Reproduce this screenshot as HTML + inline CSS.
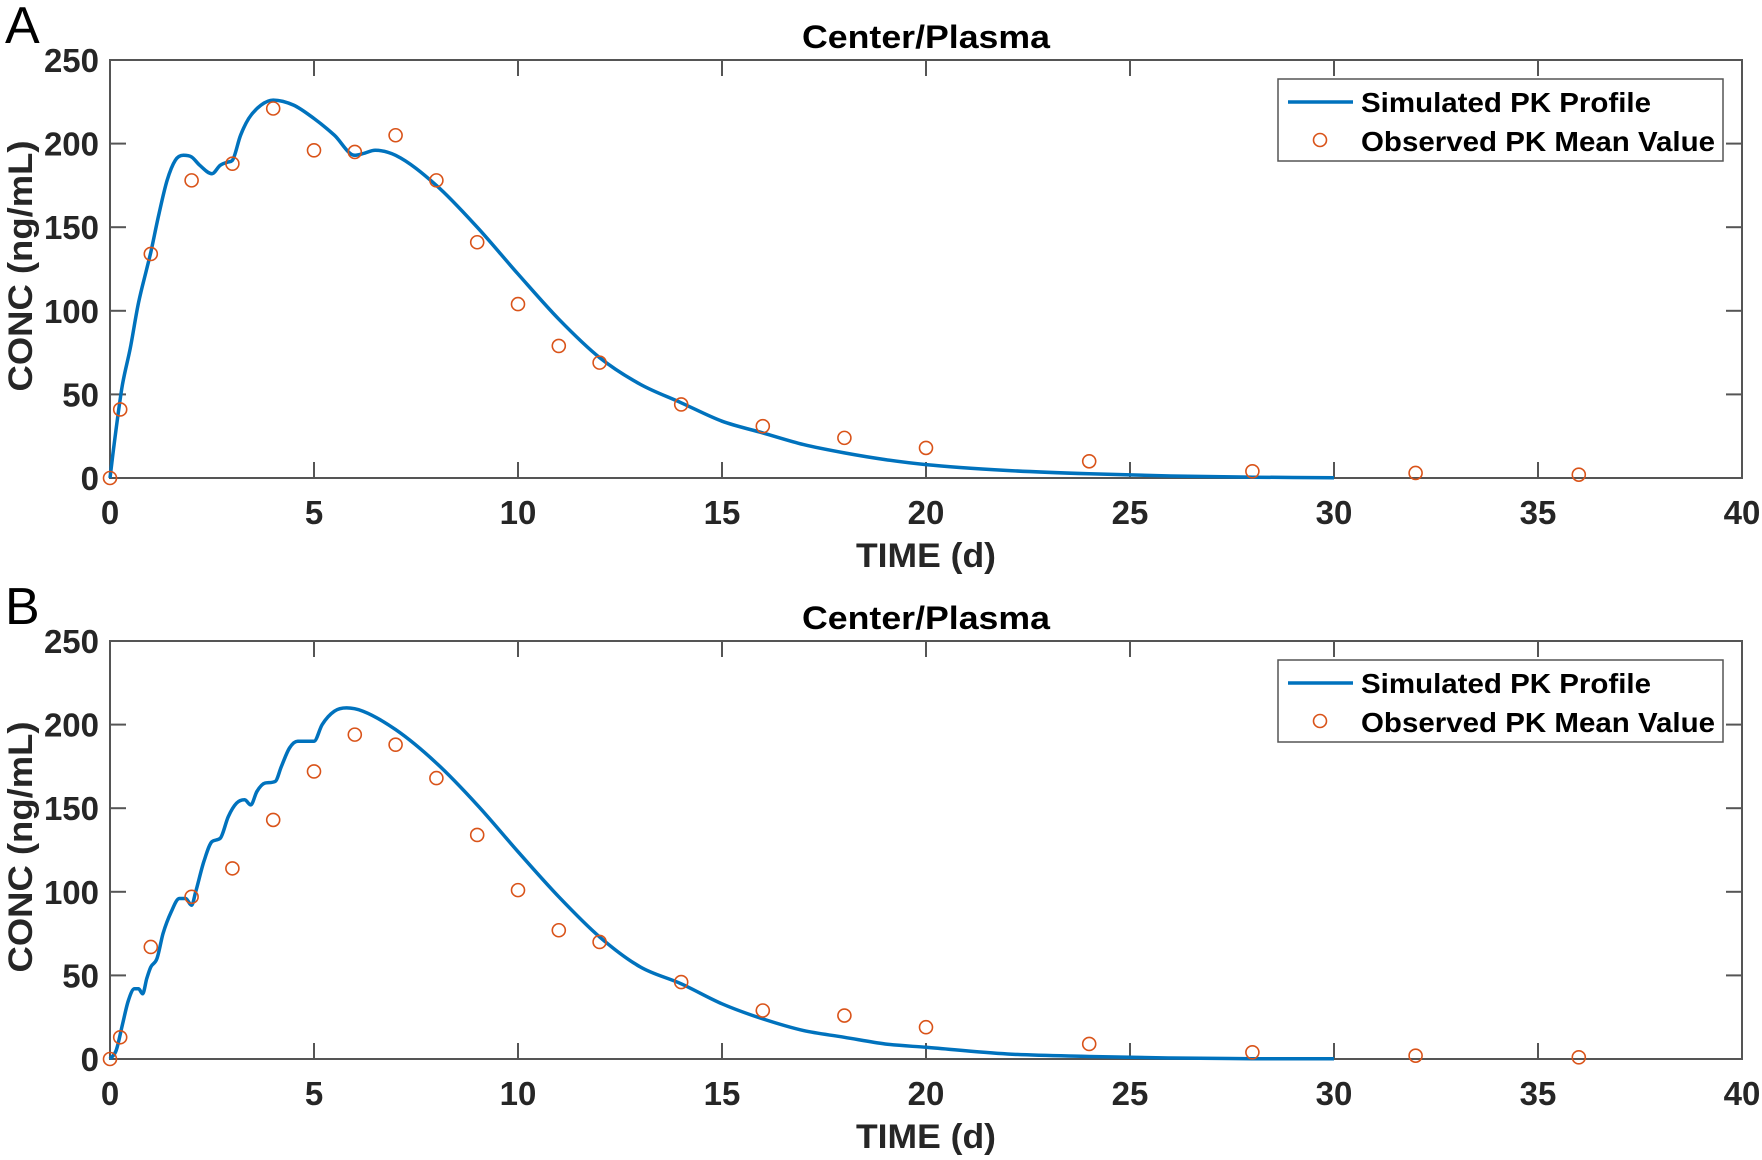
<!DOCTYPE html>
<html><head><meta charset="utf-8"><style>
html,body{margin:0;padding:0;background:#fff;}
svg{display:block;font-family:"Liberation Sans",Arial,sans-serif;}
</style></head><body>
<svg id="chart" width="1762" height="1160" viewBox="0 0 1762 1160" xmlns="http://www.w3.org/2000/svg"></svg>
<script>
const xTicks = [0,5,10,15,20,25,30,35,40];
const yTicks = [0,50,100,150,200,250];
const obsTimes = [0,0.25,1,2,3,4,5,6,7,8,9,10,11,12,14,16,18,20,24,28,32,36];
const obsA = [0,41,134,178,188,221,196,195,205,178,141,104,79,69,44,31,24,18,10,4,3,2];
const obsB = [0,13,67,97,114,143,172,194,188,168,134,101,77,70,46,29,26,19,9,4,2,1];
const simTimesA = [0,0.1,0.3,0.5,0.7,0.9,1.0,1.2,1.4,1.6,1.8,2.0,2.2,2.5,2.7,2.9,3.0,3.2,3.4,3.7,4.0,4.5,5.0,5.5,6.0,6.2,6.5,7,8,9,10,11,12,13,14,15,16,17,18,19,20,22,24,26,28,30];
const simA = [0,20,55,78,105,125,135,158,178,190,193,192,187,182,187,189,190,205,215,223,226,223,215,205,193,194,196,193,175,150,122,95,72,56,45,34,27,20,15,11,8,4.5,2.5,1.2,0.5,0.2];
const simTimesB = [0,0.15,0.3,0.45,0.6,0.7,0.8,0.9,1.0,1.15,1.3,1.5,1.7,1.85,2.0,2.1,2.3,2.5,2.7,2.9,3.1,3.3,3.45,3.6,3.8,4.05,4.2,4.4,4.6,4.9,5.0,5.2,5.5,5.8,6.2,7,8,9,10,11,12,13,14,15,16,17,18,19,20,22,24,26,28,30];
const simB = [0,5,20,35,42,42,39,48,55,60,75,88,96,96,92,100,118,130,132,145,153,155,152,160,165,166,175,186,190,190,190,200,208,210,208,197,177,152,124,97,73,55,45,33,24,17,13,9,7,3,1.5,0.6,0.2,0.1];

const NS = "http://www.w3.org/2000/svg";
const svg = document.getElementById('chart');
function mk(tag, attrs, parent){const e=document.createElementNS(NS,tag);for(const k in attrs)e.setAttribute(k,attrs[k]);(parent||svg).appendChild(e);return e;}

function monotonePath(px, py){
  const n=px.length, m=new Array(n), d=[];
  for(let i=0;i<n-1;i++) d.push((py[i+1]-py[i])/(px[i+1]-px[i]));
  m[0]=d[0]; m[n-1]=d[n-2];
  for(let i=1;i<n-1;i++){ m[i]=(d[i-1]*d[i]<=0)?0:(d[i-1]+d[i])/2; }
  for(let i=0;i<n-1;i++){
    if(d[i]===0){m[i]=0;m[i+1]=0;continue;}
    const a=m[i]/d[i], b=m[i+1]/d[i], s=a*a+b*b;
    if(s>9){const t=3/Math.sqrt(s); m[i]=t*a*d[i]; m[i+1]=t*b*d[i];}
  }
  let p='M'+px[0].toFixed(1)+','+py[0].toFixed(1);
  for(let i=0;i<n-1;i++){
    const h=(px[i+1]-px[i])/3;
    p+=' C'+(px[i]+h).toFixed(1)+','+(py[i]+m[i]*h).toFixed(1)+' '+(px[i+1]-h).toFixed(1)+','+(py[i+1]-m[i+1]*h).toFixed(1)+' '+px[i+1].toFixed(1)+','+py[i+1].toFixed(1);
  }
  return p;
}

const X0=110, X1=1742;
function drawPanel(letter, top, simT, simV, obsV){
  const bottom = top + 418;
  const g = mk('g',{});
  
  
  const xs = v => X0 + (v/40)*(X1-X0);
  const ys = v => bottom - (v/250)*(bottom-top);
  const lt = mk('text',{x:5,y:top-17,'font-size':52,fill:'#000'},g); lt.textContent=letter;
   
  const tt = mk('text',{x:926,y:top-12,'font-size':32,'font-weight':'bold','text-anchor':'middle',fill:'#000',textLength:248,lengthAdjust:'spacingAndGlyphs'},g); tt.textContent='Center/Plasma';
   
  xTicks.forEach(t=>{
    const x=xs(t);
    mk('line',{x1:x,y1:bottom,x2:x,y2:bottom-16,stroke:'#555','stroke-width':2},g);
    mk('line',{x1:x,y1:top,x2:x,y2:top+16,stroke:'#555','stroke-width':2},g);
    const l=mk('text',{x:x,y:bottom+46,'font-size':33,'font-weight':'bold','text-anchor':'middle',fill:'#262626'},g); l.textContent=t;
     
  });
  yTicks.forEach(t=>{
    const y=ys(t);
    mk('line',{x1:X0,y1:y,x2:X0+16,y2:y,stroke:'#555','stroke-width':2},g);
    mk('line',{x1:X1,y1:y,x2:X1-16,y2:y,stroke:'#555','stroke-width':2},g);
    const l=mk('text',{x:99,y:y+12,'font-size':33,'font-weight':'bold','text-anchor':'end',fill:'#262626'},g); l.textContent=t;
     
  });
  const box=mk('rect',{x:X0,y:top,width:X1-X0,height:bottom-top,fill:'none',stroke:'#555','stroke-width':2},g);
   
  const xl=mk('text',{x:926,y:bottom+89,'font-size':34,'font-weight':'bold','text-anchor':'middle',fill:'#262626',textLength:140,lengthAdjust:'spacingAndGlyphs'},g); xl.textContent='TIME (d)';
   
  const yl=mk('text',{x:0,y:0,'font-size':34,'font-weight':'bold','text-anchor':'middle',fill:'#262626',textLength:251,lengthAdjust:'spacingAndGlyphs',transform:`translate(32,${top+206}) rotate(-90)`},g); yl.textContent='CONC (ng/mL)';
   
  const d = monotonePath(simT.map(xs), simV.map(ys));
  const p=mk('path',{d:d,fill:'none',stroke:'#0072BD','stroke-width':3.5,'stroke-linejoin':'round'},g);
   
  obsTimes.forEach((t,i)=>{
    const c=mk('circle',{cx:xs(t),cy:ys(obsV[i]),r:6.5,fill:'none',stroke:'#D95319','stroke-width':1.6},g);
     
  });
  const lg=mk('g',{},g);
   
  mk('rect',{x:1278,y:top+19,width:445,height:82,fill:'#fff',stroke:'#555','stroke-width':1.5},lg);
  mk('line',{x1:1288,y1:top+42,x2:1353,y2:top+42,stroke:'#0072BD','stroke-width':3.5},lg);
  const t1=mk('text',{x:1361,y:top+52,'font-size':28,'font-weight':'bold',fill:'#000',textLength:290,lengthAdjust:'spacingAndGlyphs'},lg); t1.textContent='Simulated PK Profile';
   
  mk('circle',{cx:1320,cy:top+80,r:6.5,fill:'none',stroke:'#D95319','stroke-width':1.6},lg);
  const t2=mk('text',{x:1361,y:top+91,'font-size':28,'font-weight':'bold',fill:'#000',textLength:354,lengthAdjust:'spacingAndGlyphs'},lg); t2.textContent='Observed PK Mean Value';
   
}
drawPanel('A', 60, simTimesA, simA, obsA);
drawPanel('B', 641, simTimesB, simB, obsB);
</script>
</body></html>
